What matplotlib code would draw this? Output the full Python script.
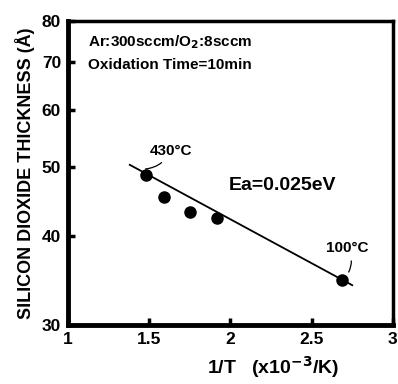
import matplotlib
matplotlib.use('Agg')
import matplotlib.pyplot as plt
from matplotlib.ticker import FixedLocator, NullLocator

plt.rcParams['font.family'] = ['Liberation Sans', 'DejaVu Sans']
plt.rcParams['font.weight'] = 'bold'
plt.rcParams['mathtext.default'] = 'bf'

# measured points: 1/T (x10^-3 /K) vs oxide thickness (A)
inv_t = [1.48, 1.59, 1.75, 1.92, 2.69]
thick = [48.7, 45.4, 43.2, 42.4, 34.7]

# fitted line end points
fit_x = [1.38, 2.75]
fit_y = [50.3, 34.1]

xticks = [1, 1.5, 2, 2.5, 3]
yticks = [30, 40, 50, 60, 70, 80]

fig = plt.figure(figsize=(3.98, 3.84), dpi=100)
ax = fig.add_axes([0.171, 0.154, 0.816, 0.791])

ax.plot(fit_x, fit_y, color='black', lw=1.3)
ax.plot(inv_t, thick, 'o', color='black', ms=8)

ax.set_yscale('log')
ax.set_xlim(1, 3)
ax.set_ylim(30, 80)
ax.xaxis.set_major_locator(FixedLocator(xticks))
ax.yaxis.set_major_locator(FixedLocator(yticks))
ax.yaxis.set_minor_locator(NullLocator())
ax.set_xticklabels(['1', '1.5', '2', '2.5', '3'])
ax.set_yticklabels([str(v) for v in yticks])
ax.tick_params(direction='in', length=5, width=2.5, labelsize=12.5, pad=5)
for lab in ax.get_xticklabels() + ax.get_yticklabels():
    lab.set_fontweight('bold')

for s in ax.spines.values():
    s.set_linewidth(2.5)
ax.spines['left'].set_linewidth(3.5)
ax.spines['bottom'].set_linewidth(3.5)

ax.set_ylabel('SILICON DIOXIDE THICKNESS (Å)', fontsize=13, fontweight='bold', labelpad=5)
ax.set_xlabel('1/T   (x10$^{\\mathbf{-3}}$/K)', fontsize=14, fontweight='bold')
ax.xaxis.set_label_coords(0.63, -0.095)

ax.text(0.06, 0.93, 'Ar:300sccm/O$_2$:8sccm', transform=ax.transAxes,
        fontsize=11, fontweight='bold', va='center')
ax.text(0.06, 0.855, 'Oxidation Time=10min', transform=ax.transAxes,
        fontsize=11, fontweight='bold', va='center')
ax.text(1.99, 47.0, 'Ea=0.025eV', fontsize=14, fontweight='bold', va='center')

ax.annotate('430°C', xy=(inv_t[0] - 0.02, thick[0] + 0.9), xytext=(1.5, 52.6),
            fontsize=11, va='center',
            arrowprops=dict(arrowstyle='-', color='black', lw=0.9,
                            connectionstyle='arc3,rad=-0.3'))
ax.annotate('100°C', xy=(inv_t[4] + 0.03, thick[4] + 0.6), xytext=(2.59, 38.4),
            fontsize=11, va='center',
            arrowprops=dict(arrowstyle='-', color='black', lw=0.9,
                            connectionstyle='arc3,rad=-0.3'))

fig.savefig('out.png', dpi=100)
